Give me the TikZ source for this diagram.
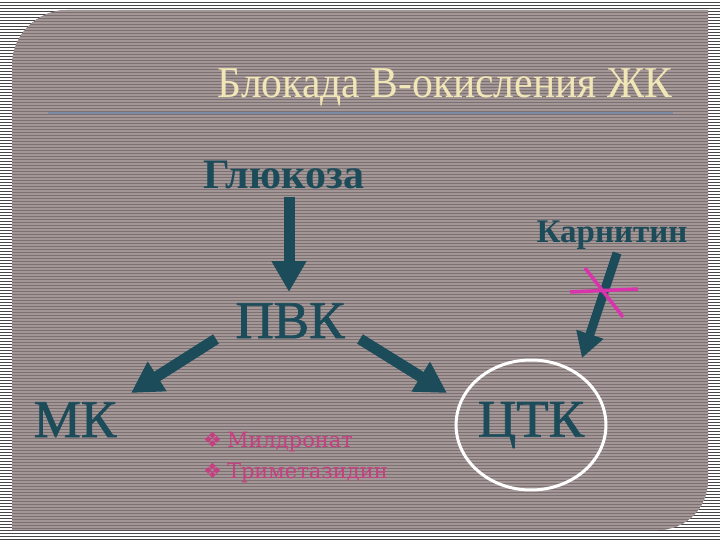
\documentclass[tikz,border=0pt]{standalone}
\usepackage{fontspec}
\setmainfont{Liberation Serif}
\newfontfamily\heavyfont[FakeBold=1.3]{Liberation Serif}
\newfontfamily\drugfont{DejaVu Serif}
\newfontfamily\signfont{DejaVu Sans}
\usetikzlibrary{arrows.meta,shapes.geometric}

\definecolor{framedark}{RGB}{70,70,72}
\definecolor{panelbase}{RGB}{125,112,113}
\definecolor{panelline}{RGB}{163,150,151}
\definecolor{inkteal}{RGB}{28,76,90}
\definecolor{titlecream}{RGB}{241,230,182}
\definecolor{rulegray}{RGB}{124,139,165}
\definecolor{drugpink}{RGB}{200,62,130}
\definecolor{crossmag}{RGB}{218,52,172}

\tikzset{
  bigarrow/.style={line width=11pt,inkteal,-{Triangle[width=33pt,length=31pt]}},
  smallarrow/.style={line width=9pt,inkteal,-{Triangle[width=27pt,length=25pt]}},
  blockline/.style={line width=3.5pt,crossmag},
  keyword/.style={inner sep=0pt,anchor=base,text=inkteal},
  drugitem/.style={inner sep=0pt,anchor=base west,text=drugpink,font=\fontsize{21}{24}\selectfont}
}

\begin{document}
\begin{tikzpicture}[x=1pt,y=-1pt]
				\useasboundingbox (0,0) rectangle (720,540);
				
				% striped frame and the slide panel
				\fill[framedark] (0,0) rectangle (720,540);
				\foreach \y in {1,4,...,539}{%
					\draw[white,line width=1.3pt] (0,\y) -- (720,\y);
				}
				\begin{scope}
					\clip (12,530) -- (12,65) .. controls (12,35) and (37,10) .. (67,10)
					-- (708,10) -- (708,480) .. controls (708,508) and (686,530) .. (658,530) -- cycle;
					\fill[panelbase] (0,0) rectangle (720,540);
					\foreach \y in {11,14,...,530}{%
						\draw[panelline,line width=1.1pt] (0,\y) -- (720,\y);
					}
				\end{scope}
				
				% title and rule
				\node (Title) at (445,98) [inner sep=0pt,anchor=base,text=titlecream,
				xscale=0.945,font=\fontsize{44}{48}\selectfont] {Блокада В-окисления ЖК};
				\coordinate (RuleL) at (48,113);
				\coordinate (RuleR) at (673,113);
				\draw[rulegray,line width=2pt] (RuleL) -- (RuleR);
				
				\node (Gluc) at (284,189) [keyword,font=\fontsize{42}{46}\bfseries] {Глюкоза};
				\node (Pvk)  at (290,338) [keyword,font=\fontsize{53}{56}\heavyfont] {ПВК};
				\node (Mk)   at (75,437)  [keyword,font=\fontsize{53}{56}\heavyfont] {МК};
				\node (Carn) at (612,242) [keyword,font=\fontsize{33}{36}\bfseries] {Карнитин};
				\node (Ctk)  at (531,425) [ellipse,draw=white,line width=3pt,inner sep=0pt,
				minimum width=148pt,minimum height=130pt,text=inkteal,
				font=\fontsize{53}{56}\heavyfont] {ЦТК};
				
				\node (DrugA) at (203,447) [drugitem] {{\signfont ❖}\hspace{5pt}{\drugfont Милдронат}};
				\node (DrugB) at (203,478) [drugitem] {{\signfont ❖}\hspace{5pt}{\drugfont Триметазидин}};
				
				% arrow ends
				\coordinate (GlucOut)  at (289,197);
				\coordinate (PvkIn)    at (289,292);
				\coordinate (PvkOutL)  at (216,339);
				\coordinate (MkIn)     at (131,393);
				\coordinate (PvkOutR)  at (360,339);
				\coordinate (CtkInL)   at (447,393);
				\coordinate (CarnOut)  at (617,253);
				\coordinate (CtkInR)   at (582,358);
				
				\draw[bigarrow] (GlucOut) -- (PvkIn);
				\draw[bigarrow] (PvkOutL) -- (MkIn);
				\draw[bigarrow] (PvkOutR) -- (CtkInL);
				\draw[smallarrow] (CarnOut) -- (CtkInR);
				
				% the block on carnitine
				\coordinate (BarA) at (570,292);
				\coordinate (BarB) at (638,289);
				\coordinate (BarC) at (585,268);
				\coordinate (BarD) at (623,317);
				\draw[blockline] (BarA) -- (BarB);
				\draw[blockline] (BarC) -- (BarD);
				
\end{tikzpicture}
\end{document}
